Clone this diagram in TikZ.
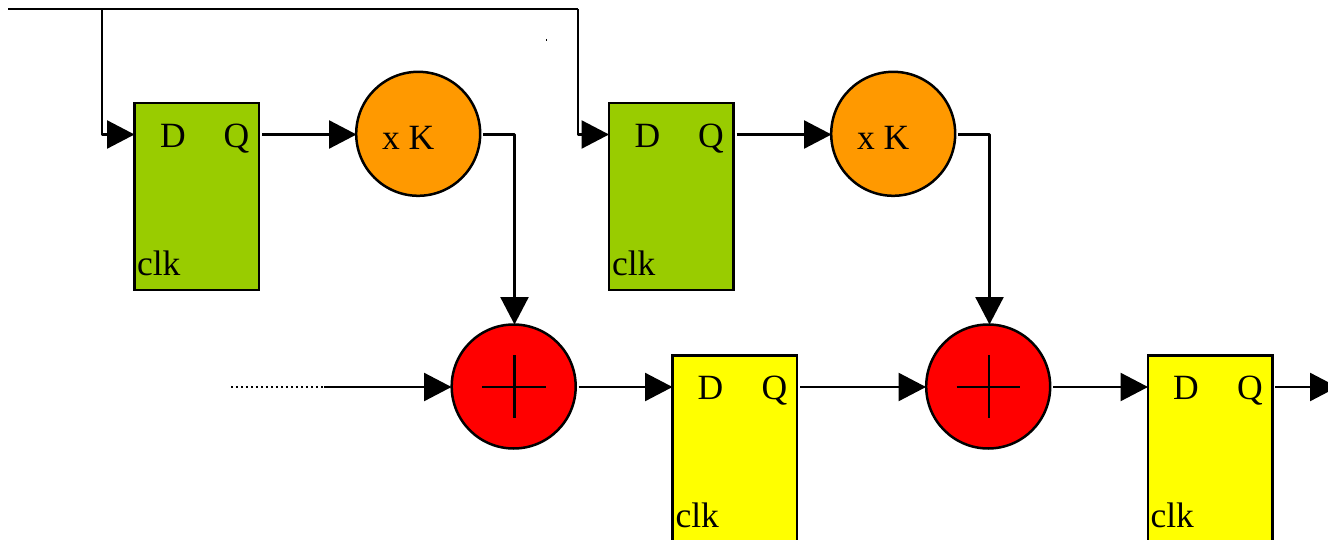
\documentclass[tikz,border=0pt]{standalone}
\usepackage{fontspec}
\setmainfont{Liberation Serif}
\usetikzlibrary{arrows.meta,calc}
\definecolor{ffgreen}{HTML}{99CC00}
\definecolor{mulorange}{HTML}{FF9900}
\definecolor{ffyellow}{HTML}{FFFF00}
\definecolor{addred}{HTML}{FF0000}
\tikzset{
  wire/.style={line width=2.5pt,line join=round},
  arrowwire/.style={wire,-{Triangle[length=27.5pt,width=28pt]}},
  ffbox/.style={draw=black,line width=2.5pt,rectangle,minimum width=124.5pt,minimum height=187pt,inner sep=0pt,outer sep=0pt},
  greenff/.style={ffbox,fill=ffgreen},
  yellowff/.style={ffbox,fill=ffyellow},
  roundop/.style={draw=black,line width=2.5pt,circle,minimum size=124pt,inner sep=0pt,outer sep=0pt},
  mul/.style={roundop,fill=mulorange},
  adder/.style={roundop,fill=addred},
  lbl/.style={anchor=base west,inner sep=0pt,outer sep=0pt,font=\fontsize{35.5}{38}\selectfont}
}
\begin{document}
\begin{tikzpicture}[x=1pt,y=-1pt]
\useasboundingbox (0,0) rectangle (1328,540);
\clip (0,0) rectangle (1328,540);
% blocks
\node[greenff] (g1) at (196.75,196.5) {};
\node[greenff] (g2) at (671.25,196.5) {};
\node[yellowff] (y1) at (734.75,449) {};
\node[yellowff] (y2) at (1210.25,449) {};
\node[mul] (m1) at (418.2,133.8) {};
\node[mul] (m2) at (893.2,133.8) {};
\node[adder] (a1) at (513.7,386.5) {};
\node[adder] (a2) at (988.2,386.5) {};
% labels
\node[lbl] (g1d) at (160,147.5) {D};
\node[lbl] (g1q) at (223.5,147.5) {Q};
\node[lbl] (g1c) at (137,275) {clk};
\node[lbl] (g2d) at (634.5,147.5) {D};
\node[lbl] (g2q) at (698,147.5) {Q};
\node[lbl] (g2c) at (612,275) {clk};
\node[lbl] (m1t) at (382,149.5) {x K};
\node[lbl] (m2t) at (857,149.5) {x K};
\node[lbl] (y1d) at (697.5,399.5) {D};
\node[lbl] (y1q) at (761.5,399.5) {Q};
\node[lbl] (y1c) at (675.5,527) {clk};
\node[lbl] (y2d) at (1173,399.5) {D};
\node[lbl] (y2q) at (1237,399.5) {Q};
\node[lbl] (y2c) at (1150.5,527) {clk};
% plus signs
\draw[wire] ($(a1)+(-31.5,0.5)$) -- ($(a1)+(32,0.5)$);
\draw[wire] ($(a1)+(0.8,-31.5)$) -- ($(a1)+(0.8,31.5)$);
\draw[wire] ($(a2)+(-31.5,0.5)$) -- ($(a2)+(32,0.5)$);
\draw[wire] ($(a2)+(0.8,-31.5)$) -- ($(a2)+(0.8,31.5)$);
% named ends
\coordinate (clkstart) at (8,9);
\coordinate (tap1) at (102,9);
\coordinate (tap2) at (578,9);
\coordinate (g1in) at (134.5,134.5);
\coordinate (g2in) at (609,134.5);
\coordinate (g1out) at (262,134.5);
\coordinate (g2out) at (736.5,134.5);
\coordinate (m1in) at (356.5,134.5);
\coordinate (m2in) at (831.5,134.5);
\coordinate (m1out) at (483,134.5);
\coordinate (m2out) at (958,134.5);
\coordinate (a1top) at (514.5,324.5);
\coordinate (a2top) at (989.5,324.5);
\coordinate (dotstart) at (231,387);
\coordinate (dotend) at (324,387);
\coordinate (a1in) at (451.5,387);
\coordinate (a1out) at (578.5,387);
\coordinate (y1in) at (672.5,387);
\coordinate (y1out) at (800,387);
\coordinate (a2in) at (926,387);
\coordinate (a2out) at (1053,387);
\coordinate (y2in) at (1148,387);
\coordinate (y2out) at (1275,387);
\coordinate (chainend) at (1337.5,387);
\coordinate (speck) at (546.5,39);
% connectors
\draw[wire] (clkstart) -- (tap2);
\draw[arrowwire] (tap1) |- (g1in);
\draw[arrowwire] (tap2) |- (g2in);
\draw[arrowwire] (g1out) -- (m1in);
\draw[arrowwire] (g2out) -- (m2in);
\draw[arrowwire] (m1out) -| (a1top);
\draw[arrowwire] (m2out) -| (a2top);
\draw[wire,dash pattern=on 2pt off 3pt] (dotstart) -- (dotend);
\draw[arrowwire] (dotend) -- (a1in);
\draw[arrowwire] (a1out) -- (y1in);
\draw[arrowwire] (y1out) -- (a2in);
\draw[arrowwire] (a2out) -- (y2in);
\draw[arrowwire] (y2out) -- (chainend);
\draw[line width=1pt] (speck) -- ++(0,2);
\end{tikzpicture}
\end{document}
